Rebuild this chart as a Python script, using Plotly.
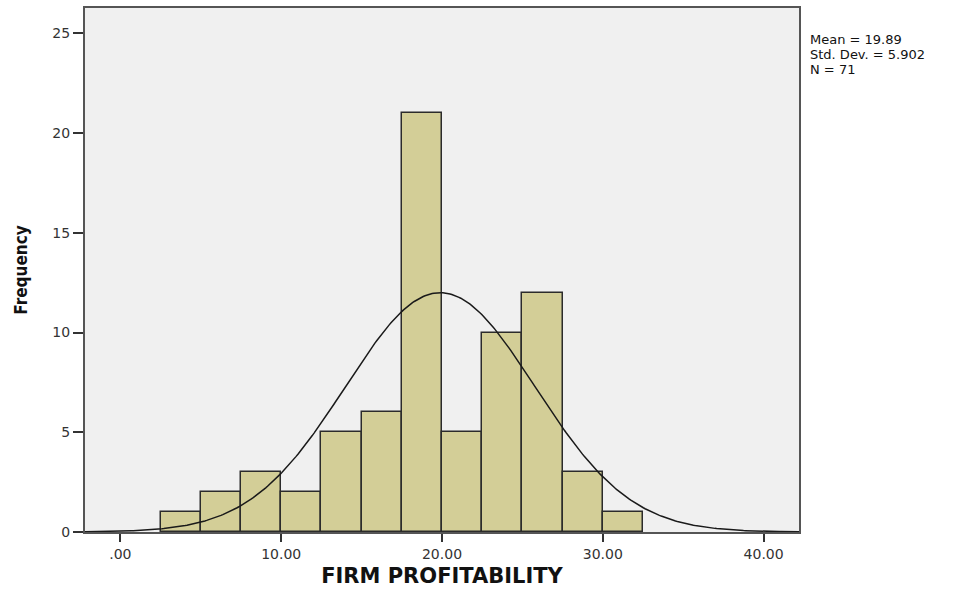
import numpy as np
import plotly.graph_objects as go

# Histogram bins (width 2.5) and frequencies
bin_starts = [2.5, 5.0, 7.5, 10.0, 12.5, 15.0, 17.5, 20.0, 22.5, 25.0, 27.5, 30.0]
counts = [1, 2, 3, 2, 5, 6, 21, 5, 10, 12, 3, 1]
bin_width = 2.5

# Summary statistics
mean_val = 19.89
std_val = 5.902
n_val = 71

x_tick_vals = [0, 10, 20, 30, 40]
x_tick_text = [".00", "10.00", "20.00", "30.00", "40.00"]
y_tick_vals = [0, 5, 10, 15, 20, 25]

centers = [s + bin_width / 2 for s in bin_starts]

# Fitted normal curve scaled to frequency
xs = np.linspace(-2.2, 42.2, 400)
ys = n_val * bin_width / (std_val * np.sqrt(2 * np.pi)) * np.exp(-0.5 * ((xs - mean_val) / std_val) ** 2)

fig = go.Figure()
fig.add_trace(go.Bar(
    x=centers, y=counts, width=bin_width,
    marker=dict(color="#d3ce97", line=dict(color="#2b2b2b", width=1.5)),
    showlegend=False, hoverinfo="skip",
))
fig.add_trace(go.Scatter(
    x=xs, y=ys, mode="lines",
    line=dict(color="#1a1a1a", width=1.5),
    showlegend=False, hoverinfo="skip",
))

tick_font = dict(size=14, color="#333", family="DejaVu Sans, sans-serif")

fig.update_layout(
    width=957, height=590,
    margin=dict(l=85, r=158, t=6, b=47),
    paper_bgcolor="white",
    plot_bgcolor="#f0f0f0",
    bargap=0,
    font=dict(family="DejaVu Sans, sans-serif", size=13, color="#222"),
    xaxis=dict(
        range=[-2.2, 42.2], tickvals=x_tick_vals, ticktext=x_tick_text,
        ticks="outside", ticklen=8, tickwidth=1.5, tickcolor="#333",
        showgrid=False, zeroline=False,
        showline=True, linecolor="#555", linewidth=2, mirror=True,
        tickfont=tick_font,
        title=dict(text="<b>FIRM PROFITABILITY</b>",
                   font=dict(size=21, color="#111", family="DejaVu Sans, sans-serif"), standoff=8),
    ),
    yaxis=dict(
        range=[0, 26.27], tickvals=y_tick_vals,
        ticks="outside", ticklen=10, tickwidth=1.5, tickcolor="#333",
        showgrid=False, zeroline=False,
        showline=True, linecolor="#555", linewidth=2, mirror=True,
        tickfont=tick_font,
        title=dict(text="<b>Frequency</b>",
                   font=dict(size=17, color="#111", family="DejaVu Sans Condensed, sans-serif"), standoff=20),
    ),
)

stats_lines = [f"Mean = {mean_val}", f"Std. Dev. = {std_val}", f"N = {n_val}"]
for i, line in enumerate(stats_lines):
    fig.add_annotation(
        xref="paper", yref="paper", x=1.0, y=1.0, xshift=10, yshift=-31 - 15 * i,
        xanchor="left", yanchor="middle", align="left", showarrow=False, borderpad=0,
        text=line, font=dict(size=13, color="#111", family="DejaVu Sans, sans-serif"),
    )

fig.write_html("out.html")
